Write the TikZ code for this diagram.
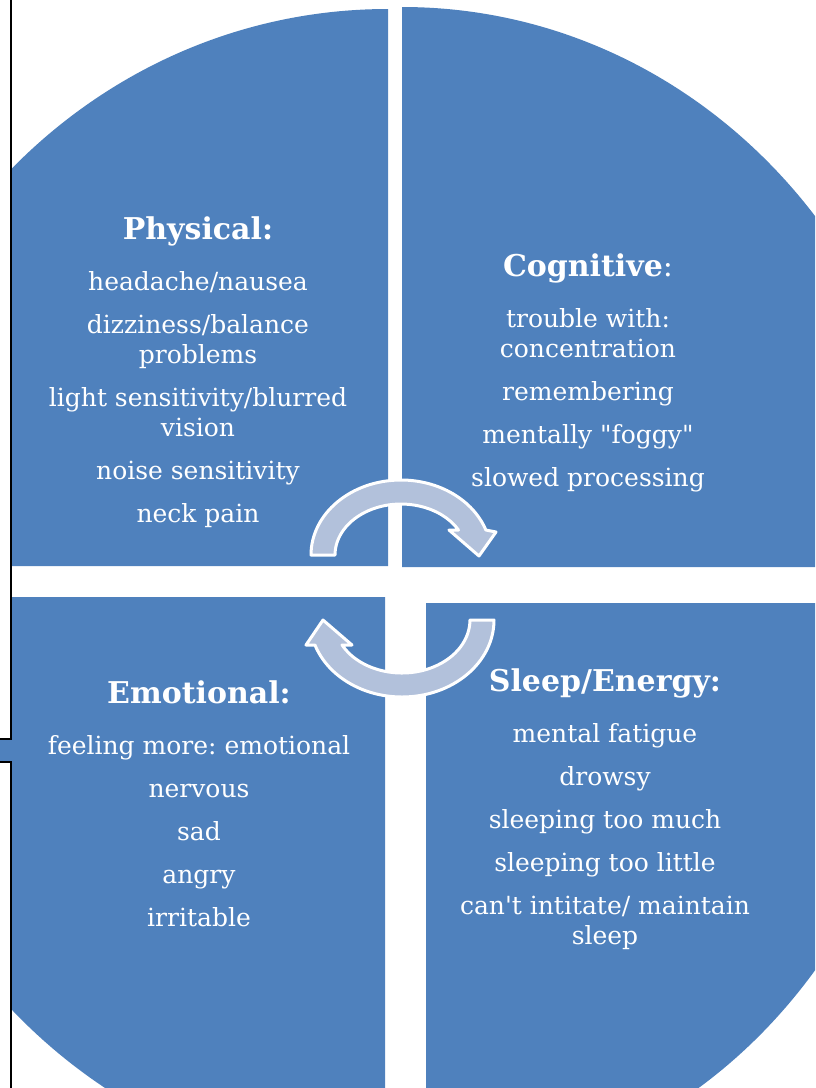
\documentclass[tikz,border=0pt]{standalone}
\usepackage{fontspec}
\setmainfont{DejaVu Serif}[Ligatures=TeXOff]
\usepackage{tikz}
\frenchspacing

\definecolor{quadblue}{HTML}{4F81BD}
\definecolor{arrowfill}{HTML}{B2C1DB}

\tikzset{
  quad/.style={fill=quadblue, draw=none},
  cyclearrow/.style={fill=arrowfill, draw=white, line width=3pt, line join=round},
  blocktext/.style={text=white, align=center, anchor=north, inner sep=0pt,
    font=\fontsize{25}{30}\selectfont},
  frameline/.style={draw=black, line width=2.5pt}
}
\newcommand{\head}[1]{{\fontsize{30}{36}\selectfont\bfseries #1}}

\begin{document}
\begin{tikzpicture}[x=1pt,y=-1pt]
\useasboundingbox (0,0) rectangle (815,1088);
% Quadrants
\begin{scope}
 \clip (11,0) rectangle (815,1088);
 \path[quad] (388,566) -- (-149,566) arc (180:270:537 and 557) -- cycle;
 \path[quad] (402,567) -- (402,7) arc (270:360:530 and 560) -- cycle;
 \path[quad] (385,597) -- (-150,597) arc (180:90:535 and 576) -- cycle;
 \path[quad] (426,603) -- (931,603) arc (0:90:505 and 576) -- cycle;
\end{scope}
\fill[quadblue] (0,739) rectangle (11,762);
% Frame on the left
\draw[frameline] (11,0) -- (11,739) -- (0,739);
\draw[frameline] (0,762) -- (11,762) -- (11,1088);
% Cycle arrows
\draw[cyclearrow] (311,555) arc (180:340.53:90 and 75) -- (496,532) -- (479,556)
  -- (449,530) -- (458.5,530) arc (330.6:180:66 and 51) -- cycle;
\draw[cyclearrow] (494,620) arc (0:161.06:92 and 77) -- (306,645) -- (323,620)
  -- (352,645) -- (342,645) arc (151.85:0:68 and 53) -- cycle;
% Texts
\node[blocktext] (physical) at (198,216) {\head{Physical:}\\[21pt]
  headache/nausea\\[13pt]
  dizziness/balance\\problems\\[13pt]
  light sensitivity/blurred\\vision\\[13pt]
  noise sensitivity\\[13pt]
  neck pain};
\node[blocktext] (cognitive) at (588,253) {\head{Cognitive}{\fontsize{30}{36}\selectfont:}\\[21pt]
  trouble with:\\concentration\\[13pt]
  remembering\\[13pt]
  mentally "foggy"\\[13pt]
  slowed processing};
\node[blocktext] (emotional) at (199,680) {\head{Emotional:}\\[21pt]
  feeling more: emotional\\[13pt]
  nervous\\[13pt]
  sad\\[13pt]
  angry\\[13pt]
  irritable};
\node[blocktext] (sleep) at (605,668) {\head{Sleep/Energy:}\\[21pt]
  mental fatigue\\[13pt]
  drowsy\\[13pt]
  sleeping too much\\[13pt]
  sleeping too little\\[13pt]
  can't intitate/ maintain\\sleep};
\end{tikzpicture}
\end{document}
